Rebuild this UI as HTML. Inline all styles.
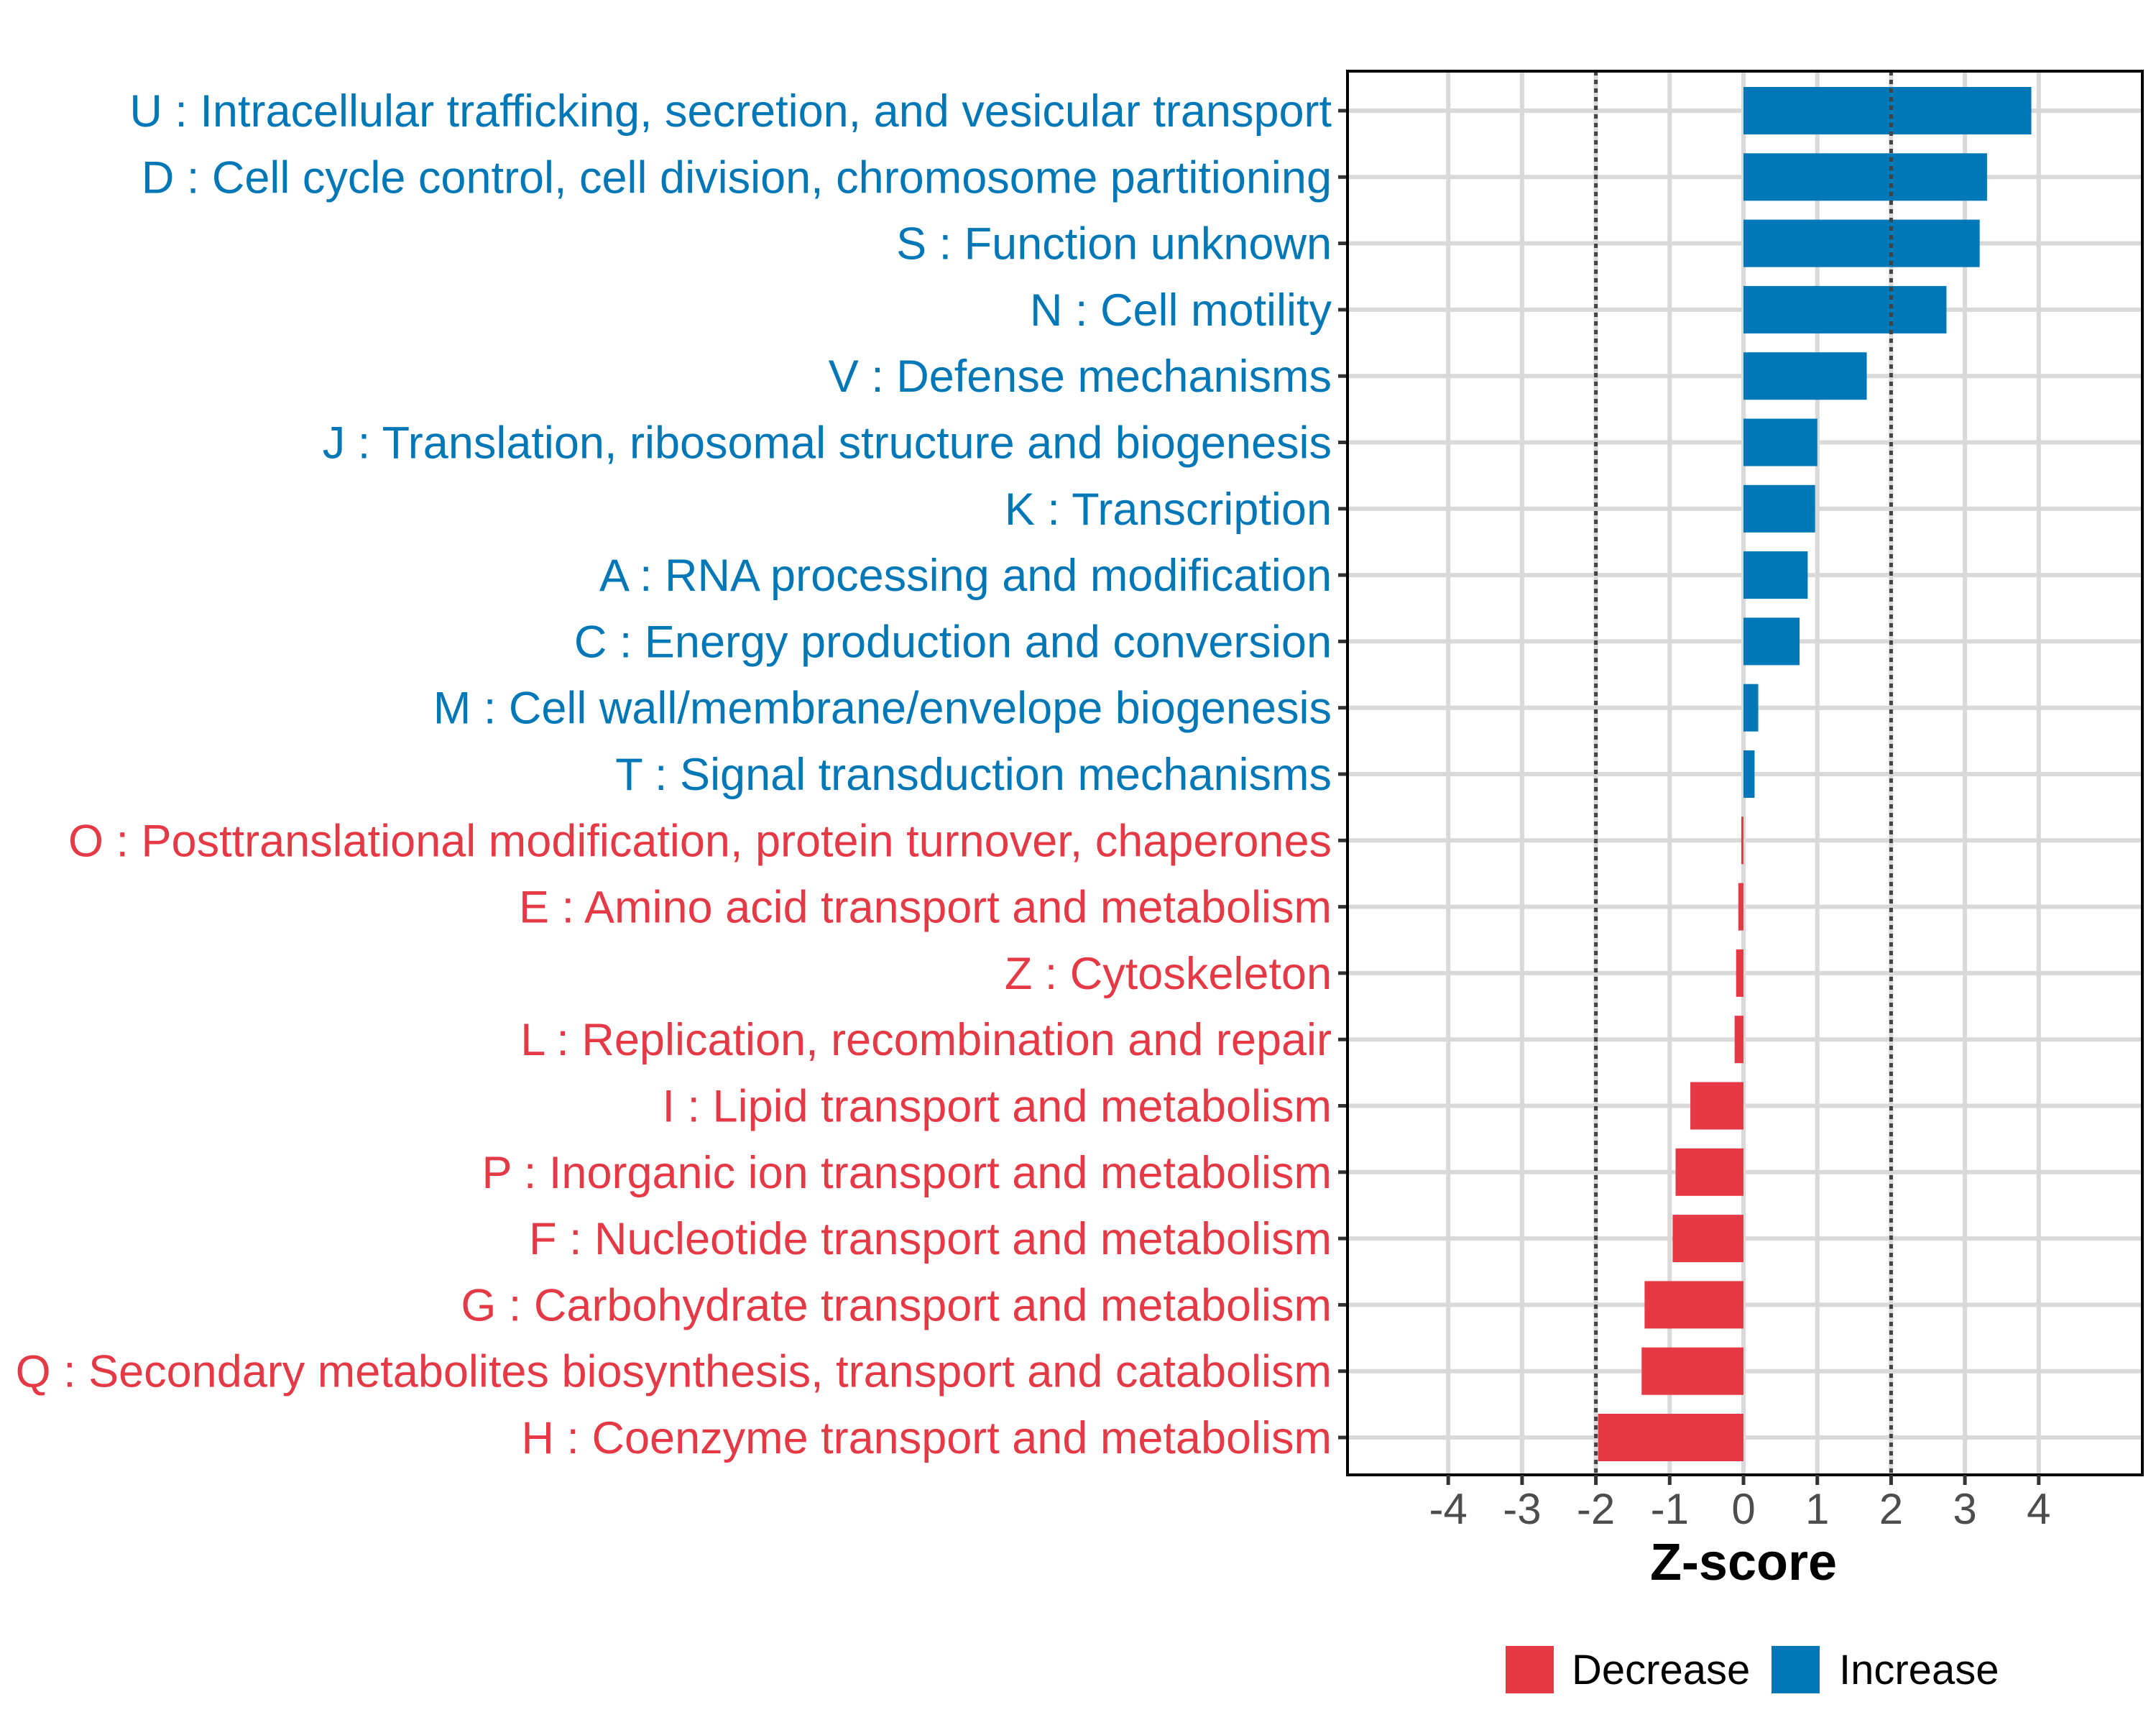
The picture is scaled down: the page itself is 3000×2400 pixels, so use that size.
<!DOCTYPE html>
<html><head><meta charset="utf-8"><style>
html,body{margin:0;padding:0;background:#fff}
svg{display:block}
text{font-family:"Liberation Sans",Arial,sans-serif}
</style></head><body>
<svg id="chart" width="3000" height="2400" viewBox="0 0 3000 2400" xmlns="http://www.w3.org/2000/svg"></svg>
<script>
const categories = [
"U : Intracellular trafficking, secretion, and vesicular transport",
"D : Cell cycle control, cell division, chromosome partitioning",
"S : Function unknown",
"N : Cell motility",
"V : Defense mechanisms",
"J : Translation, ribosomal structure and biogenesis",
"K : Transcription",
"A : RNA processing and modification",
"C : Energy production and conversion",
"M : Cell wall/membrane/envelope biogenesis",
"T : Signal transduction mechanisms",
"O : Posttranslational modification, protein turnover, chaperones",
"E : Amino acid transport and metabolism",
"Z : Cytoskeleton",
"L : Replication, recombination and repair",
"I : Lipid transport and metabolism",
"P : Inorganic ion transport and metabolism",
"F : Nucleotide transport and metabolism",
"G : Carbohydrate transport and metabolism",
"Q : Secondary metabolites biosynthesis, transport and catabolism",
"H : Coenzyme transport and metabolism"];
const zscores = [3.9,3.3,3.2,2.75,1.67,1.0,0.97,0.87,0.76,0.2,0.15,-0.03,-0.07,-0.1,-0.12,-0.72,-0.92,-0.96,-1.34,-1.38,-1.97];
const xTicks = [-4,-3,-2,-1,0,1,2,3,4];
const thresholds = [-2,2];
const legendLabels = ["Decrease","Increase"];

const NS="http://www.w3.org/2000/svg";
const svg=document.getElementById('chart');
const BLUE="#0077b6", RED="#e63946";
const L=1875,R=2981,T=99,B=2052;
const x0=2426, unit=102.7;
const X=v=>x0+v*unit;
const yTop=154, yStep=(2000-154)/(categories.length-1);
const Y=i=>yTop+i*yStep;
function el(tag,attrs,parent){const e=document.createElementNS(NS,tag);for(const k in attrs)e.setAttribute(k,attrs[k]);(parent||svg).appendChild(e);return e;}

const grid=el('g',{});


xTicks.forEach(t=>{const g=el('line',{x1:X(t),x2:X(t),y1:T,y2:B,stroke:'#d9d9d9','stroke-width':6},grid);

});
categories.forEach((c,i)=>{const g=el('line',{x1:L,x2:R,y1:Y(i),y2:Y(i),stroke:'#d9d9d9','stroke-width':6},grid);

});

categories.forEach((c,i)=>{
 const v=zscores[i];const col=v<0?RED:BLUE;
 const b=el('rect',{x:Math.min(X(0),X(v)),y:Y(i)-33,width:Math.abs(X(v)-X(0)),height:66,fill:col});
 
 
 const t=el('text',{x:1853,y:Y(i)+22,'text-anchor':'end','font-size':63,fill:col});
 t.textContent=c;
 
 
 const tk=el('line',{x1:1862,x2:L,y1:Y(i),y2:Y(i),stroke:'#333','stroke-width':5});
 
 
});
thresholds.forEach(t=>{const d=el('line',{x1:X(t),x2:X(t),y1:T,y2:B,stroke:'#444','stroke-width':5,'stroke-dasharray':'6 6'});

});
const border=el('rect',{x:L,y:T,width:R-L,height:B-T,fill:'none',stroke:'#000','stroke-width':4});


xTicks.forEach(t=>{
 const tk=el('line',{x1:X(t),x2:X(t),y1:B,y2:B+14,stroke:'#333','stroke-width':5});
 
 
 const lb=el('text',{x:X(t),y:2120,'text-anchor':'middle','font-size':60,fill:'#4d4d4d'});
 lb.textContent=String(t);
 
 
});
const xt=el('text',{x:2426,y:2198,'text-anchor':'middle','font-size':72,'font-weight':'bold',fill:'#000'});
xt.textContent="Z-score";


const lg=el('g',{});


const lx=[2095,2465],tx=[2187,2559],cols=[RED,BLUE];
legendLabels.forEach((l,i)=>{
 const k=el('rect',{x:lx[i],y:2290,width:67,height:66,fill:cols[i]},lg);
 
 
 const t=el('text',{x:tx[i],y:2343,'font-size':58,fill:'#000'},lg);
 t.textContent=l;
 
 
});
</script>
</body></html>
